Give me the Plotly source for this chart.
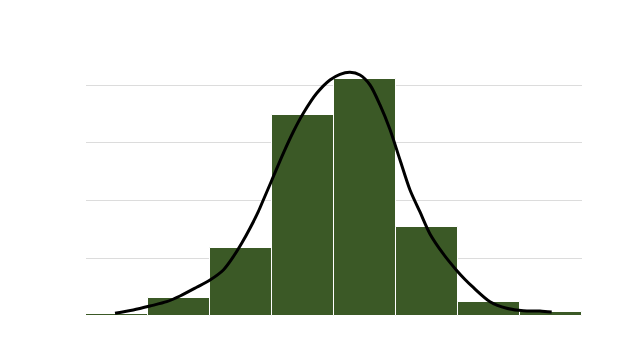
import plotly.graph_objects as go

# Histogram bins (bin centres) and heights
bin_centers = [0.5, 1.5, 2.5, 3.5, 4.5, 5.5, 6.5, 7.5]
bin_heights = [0.04, 0.31, 1.17, 3.48, 4.10, 1.54, 0.25, 0.064]

# Density curve
kde_x = [0.468, 0.763, 1.032, 1.302, 1.516, 1.785, 2.000, 2.215, 2.376, 2.511,
         2.645, 2.779, 2.860, 2.995, 3.182, 3.344, 3.505, 3.721, 3.935, 4.097,
         4.258, 4.419, 4.581, 4.742, 4.903, 5.065, 5.226, 5.387, 5.548, 5.763,
         5.979, 6.113, 6.247, 6.516, 6.785, 7.053, 7.323, 7.511]
kde_y = [0.047, 0.104, 0.173, 0.248, 0.346, 0.497, 0.623, 0.797, 1.027, 1.259,
         1.519, 1.806, 2.009, 2.346, 2.817, 3.191, 3.510, 3.856, 4.087, 4.185,
         4.220, 4.173, 4.000, 3.654, 3.229, 2.701, 2.182, 1.801, 1.420, 1.074,
         0.788, 0.632, 0.494, 0.248, 0.133, 0.092, 0.087, 0.069]

fig = go.Figure()
fig.add_trace(go.Bar(
    x=bin_centers, y=bin_heights, width=1,
    marker=dict(color="#3b5926", line=dict(color="#ffffff", width=1)),
    showlegend=False, hoverinfo="skip",
))
fig.add_trace(go.Scatter(
    x=kde_x, y=kde_y, mode="lines",
    line=dict(color="#000000", width=3, shape="spline", smoothing=0.8),
    showlegend=False, hoverinfo="skip",
))
fig.update_layout(
    width=617, height=340,
    margin=dict(l=86, r=35, t=50, b=24),
    paper_bgcolor="white", plot_bgcolor="white",
    bargap=0,
    xaxis=dict(range=[0, 8], showgrid=False, showticklabels=False, zeroline=False,
               showline=False, ticks=""),
    yaxis=dict(range=[0, 4.606], dtick=1, showgrid=True, gridcolor="#dcdcdc", gridwidth=1,
               showticklabels=False, zeroline=False, showline=False, ticks=""),
)
fig.write_html("out.html")
